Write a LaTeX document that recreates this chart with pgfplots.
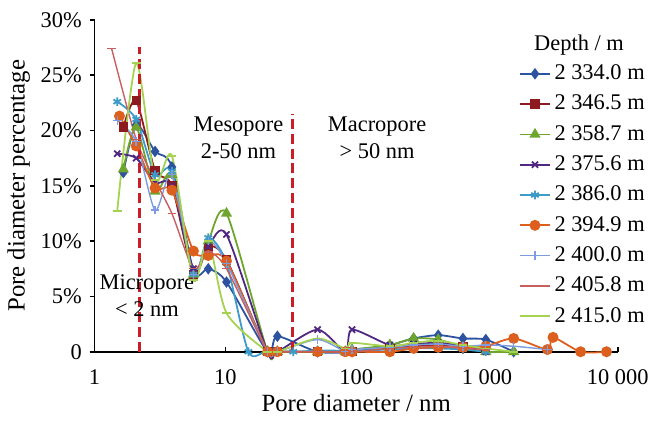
\documentclass[border=0pt]{standalone}
\usepackage{fontspec}
\setmainfont{Liberation Serif}
\usepackage{pgfplots}
\pgfplotsset{compat=1.18}

\definecolor{cA}{RGB}{44,82,160}
\definecolor{cB}{RGB}{140,26,30}
\definecolor{cC}{RGB}{110,165,45}
\definecolor{cD}{RGB}{80,40,130}
\definecolor{cE}{RGB}{60,155,200}
\definecolor{cF}{RGB}{220,95,30}
\definecolor{cG}{RGB}{125,155,225}
\definecolor{cH}{RGB}{200,95,95}
\definecolor{cI}{RGB}{165,210,80}
\definecolor{dashred}{RGB}{200,30,40}

\begin{document}
\fontsize{11.3}{13.5}\selectfont
\begin{tikzpicture}
\begin{axis}[
    name=ax,
    scale only axis,
    width=264pt, height=167.5pt,
    xmode=log,
    xmin=1, xmax=10000,
    ymin=0, ymax=30,
    axis x line=bottom, axis y line=left,
    axis line style={-, line width=0.9pt},
    xtick={1,10,100,1000,10000},
    xticklabels={1,10,100,1~000,10~000},
    xminorticks=false,
    ytick={0,5,10,15,20,25,30},
    yticklabels={0,5\%,10\%,15\%,20\%,25\%,30\%},
    xtick align=inside, ytick align=outside,
    major tick length=2.5pt,
    tick style={black, line width=0.8pt},
    xticklabel style={yshift=-5pt},
    xlabel={Pore diameter / nm},
    ylabel={Pore diameter percentage},
    label style={font=\fontsize{12.5}{15}\selectfont},
    xlabel style={at={(axis description cs:0.5,-0.155)}, anchor=center},
    ylabel style={at={(axis description cs:-0.145,0.5)}, anchor=center},
    clip=false,
    every axis plot/.append style={line width=0.9pt, smooth, tension=0.45},
    legend cell align=left,
    legend style={at={(0.80,0.89)}, anchor=north west, draw=none, fill=none,
        row sep=2.1pt},
    legend image code/.code={\draw[mark repeat=2,mark phase=2] plot coordinates {(0cm,0cm) (0.26cm,0cm) (0.52cm,0cm)};},
]
% 2 334.0 m
\addplot[color=cA, mark=diamond*, mark size=2.2pt] coordinates {
(1.66,16.2) (2.08,20.5) (2.9,18.1) (3.9,16.7) (5.7,7.3) (7.4,7.5) (10.2,6.3)
(21,0) (25,1.4) (50.7,0) (93,0) (181,0.6) (275,1.2) (424,1.5) (655,1.2) (980,1.1) (1600,0)};
\addlegendentry{2 334.0 m}
% 2 346.5 m
\addplot[color=cB, mark=square*, mark size=1.9pt] coordinates {
(1.66,20.3) (2.08,22.7) (2.9,16.4) (3.9,15) (5.7,7) (7.4,9.5) (10.2,8.3)
(21,0) (25,0) (50.7,0) (93,0) (181,0.3) (275,0.5) (424,0.6) (655,0.5) (980,0.3)};
\addlegendentry{2 346.5 m}
% 2 358.7 m
\addplot[color=cC, mark=triangle*, mark size=2.4pt] coordinates {
(1.66,16.5) (2.08,20.3) (2.9,14.5) (3.9,16) (5.7,7) (7.4,10) (10.2,12.5)
(21,0) (25,0) (50.7,0) (82.6,0) (93,0.2) (181,0.6) (275,1.2) (424,1.1) (655,0.4) (980,0) (1600,0)};
\addlegendentry{2 358.7 m}
% 2 375.6 m
\addplot[color=cD, mark=x, mark size=2.2pt] coordinates {
(1.49,17.9) (2.08,17.5) (2.9,15.3) (3.9,15) (5.7,7.5) (7.4,9.5) (10.2,10.6)
(21,0) (25,0) (50.7,2.0) (82.6,0) (93,2.0) (181,0.6) (275,0.7) (424,0.8) (655,0.5) (980,0)};
\addlegendentry{2 375.6 m}
% 2 386.0 m
\addplot[color=cE, mark=asterisk, mark size=2.2pt] coordinates {
(1.49,22.6) (2.08,21) (2.9,16) (3.9,16.3) (5.7,7) (7.4,10.3) (10.2,8)
(15,0) (21,0.1) (33,0) (50.7,0.1) (93,0.1) (181,0.2) (275,0.3) (424,0.3) (655,0.2) (980,0)};
\addlegendentry{2 386.0 m}
% 2 394.9 m
\addplot[color=cF, mark=*, mark size=2.3pt] coordinates {
(1.55,21.3) (2.08,18.6) (2.9,14.8) (3.9,14.6) (5.7,9.1) (7.4,8.7) (10.2,8.2)
(21,0) (25,0) (50.7,0) (82.6,0) (93,0) (181,0) (275,0.3) (424,0.4) (655,0.4) (980,0.5)
(1600,1.2) (2900,0.2) (3200,1.3) (5200,0) (8200,0)};
\addlegendentry{2 394.9 m}
% 2 400.0 m
\addplot[color=cG, mark=+, mark size=2.2pt, line width=0.7pt] coordinates {
(1.49,20.9) (2.08,19) (2.9,12.8) (3.9,16) (5.7,7) (7.4,10) (10.2,8)
(21,0) (25,0) (50.7,1.1) (82.6,0) (93,0.2) (181,0.4) (275,0.6) (424,0.7) (655,0.5) (980,0.6) (1600,0.5) (2900,0.2)};
\addlegendentry{2 400.0 m}
% 2 405.8 m
\addplot[color=cH, mark=-, mark size=2.2pt, line width=0.7pt] coordinates {
(1.35,27.4) (2.08,19.2) (2.9,15.5) (3.9,12.5) (5.7,7.5) (7.4,9) (10.2,7.5)
(21,0) (25,0) (50.7,0) (93,0) (181,0.3) (275,0.4) (424,0.5) (655,0.3) (980,0.2)};
\addlegendentry{2 405.8 m}
% 2 415.0 m
\addplot[color=cI, mark=-, mark size=2.2pt] coordinates {
(1.49,12.7) (2.08,26.1) (2.9,15.5) (3.9,17.7) (5.7,6.5) (7.4,10) (10.2,3.5)
(21,0) (25,0) (50.7,1.2) (82.6,0.3) (93,0.8) (181,0.5) (275,0.8) (424,1.0) (655,0.6) (980,0.3) (1600,0)};
\addlegendentry{2 415.0 m}

% pore class boundaries
\addplot[forget plot, sharp plot, color=dashred, line width=1.5pt, dash pattern=on 5pt off 2.5pt] coordinates {(2.19,0) (2.19,27.5)};
\addplot[forget plot, sharp plot, color=dashred, line width=1.5pt, dash pattern=on 5pt off 2.5pt] coordinates {(32.7,0) (32.7,21.5)};

\node at (rel axis cs:0.275,0.678) {Mesopore};
\node at (rel axis cs:0.275,0.603) {2-50 nm};
\node at (rel axis cs:0.540,0.678) {Macropore};
\node at (rel axis cs:0.540,0.603) {> 50 nm};
\node at (rel axis cs:0.100,0.203) {Micropore};
\node at (rel axis cs:0.100,0.128) {< 2 nm};
\node at (rel axis cs:0.926,0.925) {Depth / m};
\end{axis}
\path (ax.south west) ++(-47.5pt,-35pt) rectangle ++(328pt,212.5pt);
\end{tikzpicture}
\end{document}
